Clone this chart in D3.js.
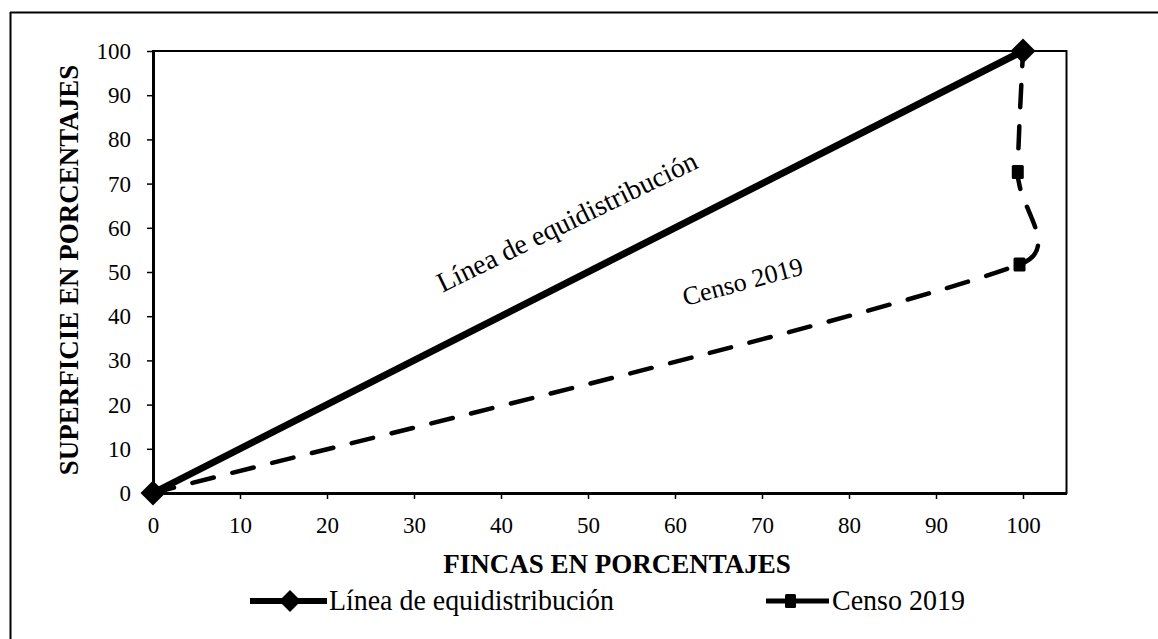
<!DOCTYPE html>
<html><head><meta charset="utf-8">
<script src="https://cdn.jsdelivr.net/npm/d3@7"></script>
<style>
body{margin:0;background:#fff}
svg{display:block}
text{font-family:"Liberation Serif","Times New Roman",serif;fill:#000}
</style>
</head><body>
<svg id="chart" width="1158" height="639"></svg>
<script>
// ---- data ----
const xTickValues = [0,10,20,30,40,50,60,70,80,90,100];
const yTickValues = [0,10,20,30,40,50,60,70,80,90,100];
const equiX = [0, 100];
const equiY = [0, 100];
const censoX = [0, 99.6, 99.4, 100];
const censoY = [0, 51.7, 72.6, 100];
const seriesNames = ["Línea de equidistribución", "Censo 2019"];
const xTitle = "FINCAS EN PORCENTAJES";
const yTitle = "SUPERFICIE EN PORCENTAJES";

const svg = d3.select("#chart");
const W = 1158, H = 639;
const L = 153, R = 1066.5, T = 51, B = 493;

// outer frame (top and left edges visible)
svg.append("line").attr("x1",10).attr("y1",12.5).attr("x2",W).attr("y2",12.5).attr("stroke","#000").attr("stroke-width",2);
svg.append("line").attr("x1",10.5).attr("y1",12).attr("x2",10.5).attr("y2",H).attr("stroke","#000").attr("stroke-width",2);

const x = d3.scaleLinear().domain([0,105]).range([L,R]);
const y = d3.scaleLinear().domain([0,100]).range([B,T]);

// plot frame
svg.append("rect").attr("x",L).attr("y",T).attr("width",R-L).attr("height",B-T)
  .attr("fill","none").attr("stroke","#000").attr("stroke-width",2);

// axes
const xAxis = svg.append("g").attr("transform",`translate(0,${B})`)
  .call(d3.axisBottom(x).tickValues(xTickValues).tickSize(6).tickSizeOuter(0));
const yAxis = svg.append("g").attr("transform",`translate(${L},0)`)
  .call(d3.axisLeft(y).tickValues(yTickValues).tickSize(6).tickSizeOuter(0));
[xAxis,yAxis].forEach(a=>{
  a.select(".domain").attr("stroke","#000").attr("stroke-width",3);
  a.selectAll(".tick line").attr("stroke","#000").attr("stroke-width",1.5);
  a.selectAll(".tick text").style("font-family",'"Liberation Serif",serif').style("font-size","23px").attr("fill","#000");
});
xAxis.selectAll(".tick text").attr("y",40).attr("dy","0");
yAxis.selectAll(".tick text").attr("x",-22).attr("dy","0.33em");

// titles
svg.append("text").attr("x",617).attr("y",573).attr("text-anchor","middle")
  .style("font-size","27px").style("font-weight","bold").text(xTitle);
svg.append("text").attr("transform","translate(78,270) rotate(-90)").attr("text-anchor","middle")
  .style("font-size","27px").style("font-weight","bold").text(yTitle);

// Excel-like smoothed curve (Bezier with limited control handles)
function curveExcel(context){
  let pts=[];
  return {
    areaStart(){}, areaEnd(){},
    lineStart(){pts=[];},
    point(px,py){pts.push([+px,+py]);},
    lineEnd(){
      const n=pts.length; if(!n) return;
      context.moveTo(pts[0][0],pts[0][1]);
      for(let i=0;i<n-1;i++){
        const p0=pts[Math.max(i-1,0)], p1=pts[i], p2=pts[i+1], p3=pts[Math.min(i+2,n-1)];
        const seg=Math.hypot(p2[0]-p1[0],p2[1]-p1[1]);
        const ax=p2[0]-p0[0], ay=p2[1]-p0[1], la=Math.hypot(ax,ay)||1;
        const bx=p3[0]-p1[0], by=p3[1]-p1[1], lb=Math.hypot(bx,by)||1;
        const f1=Math.min(1/6,0.5*seg/la), f2=Math.min(1/6,0.5*seg/lb);
        context.bezierCurveTo(p1[0]+ax*f1,p1[1]+ay*f1,p2[0]-bx*f2,p2[1]-by*f2,p2[0],p2[1]);
      }
    }
  };
}

// series
const equiData = equiX.map((v,i)=>[v,equiY[i]]);
const censoData = censoX.map((v,i)=>[v,censoY[i]]);

svg.append("path").datum(censoData)
  .attr("d", d3.line().x(d=>x(d[0])).y(d=>y(d[1])).curve(curveExcel))
  .attr("fill","none").attr("stroke","#000").attr("stroke-width",4.5)
  .attr("stroke-dasharray","22,19").attr("stroke-linecap","round");

svg.append("path").datum(equiData)
  .attr("d", d3.line().x(d=>x(d[0])).y(d=>y(d[1])))
  .attr("fill","none").attr("stroke","#000").attr("stroke-width",7);

function diamond(s){return `M0,${-s}L${s},0L0,${s}L${-s},0Z`;}

svg.selectAll(".csq").data(censoData.slice(1,3)).enter().append("rect")
  .attr("x",d=>x(d[0])-6).attr("y",d=>y(d[1])-7).attr("width",12).attr("height",14).attr("rx",1.5)
  .attr("fill","#000");

svg.selectAll(".edm").data(equiData).enter().append("path")
  .attr("d",diamond(12.5)).attr("transform",d=>`translate(${x(d[0])},${y(d[1])})`)
  .attr("fill","#000");

// annotations
svg.append("text").attr("transform","translate(571,230) rotate(-26)").attr("text-anchor","middle")
  .style("font-size","28px").text(seriesNames[0]);
svg.append("text").attr("transform","translate(745,290) rotate(-15)").attr("text-anchor","middle")
  .style("font-size","26px").text(seriesNames[1]);

// legend
const ly = 601;
const lg = svg.append("g");
lg.append("line").attr("x1",250).attr("x2",327).attr("y1",ly).attr("y2",ly).attr("stroke","#000").attr("stroke-width",6);
lg.append("path").attr("d",diamond(11)).attr("transform",`translate(290,${ly})`).attr("fill","#000");
lg.append("text").attr("x",329).attr("y",ly+9).style("font-size","29px")
  .attr("textLength",285).attr("lengthAdjust","spacingAndGlyphs").text(seriesNames[0]);
lg.append("line").attr("x1",766).attr("x2",829).attr("y1",ly).attr("y2",ly).attr("stroke","#000").attr("stroke-width",5);
lg.append("rect").attr("x",785).attr("y",ly-7).attr("width",11).attr("height",14).attr("rx",1.5).attr("fill","#000");
lg.append("text").attr("x",832).attr("y",ly+9).style("font-size","29px")
  .attr("textLength",133).attr("lengthAdjust","spacingAndGlyphs").text(seriesNames[1]);
</script>
</body></html>
